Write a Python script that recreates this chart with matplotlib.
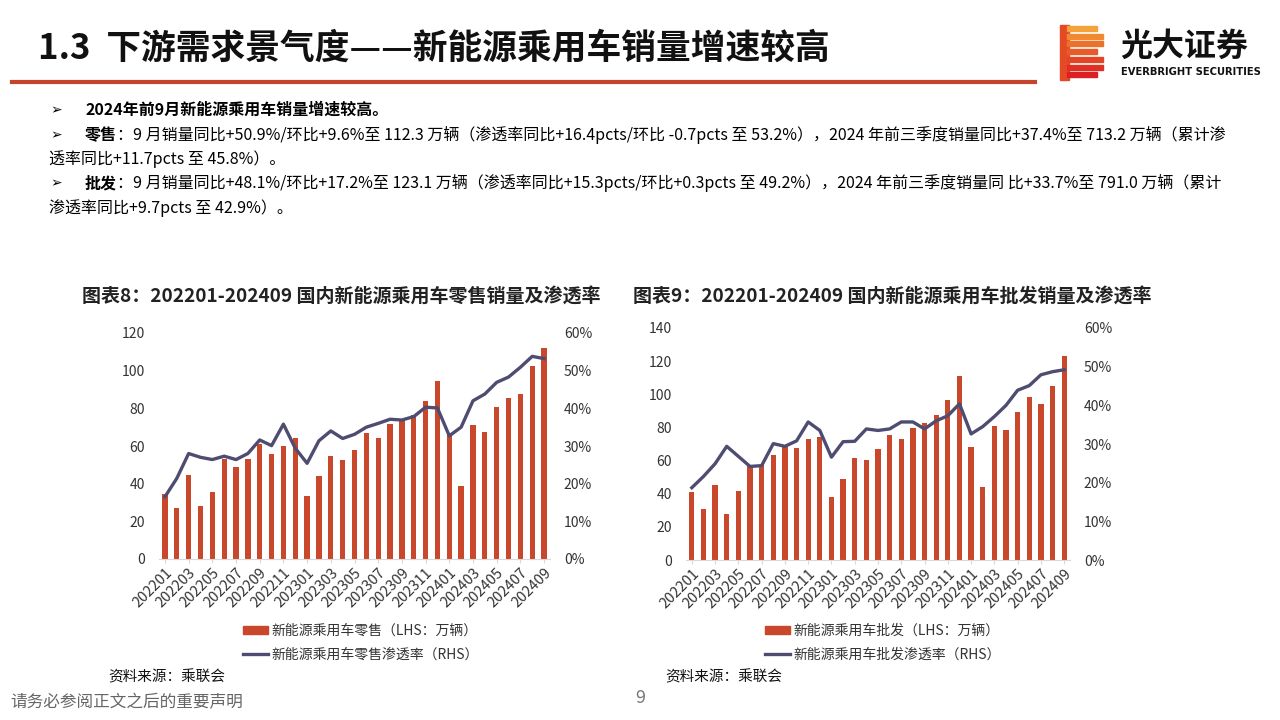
import matplotlib
matplotlib.use('Agg')
import matplotlib.pyplot as plt
from matplotlib.patches import Rectangle, Patch
from matplotlib.lines import Line2D
from matplotlib.ticker import FuncFormatter

plt.rcParams['font.family'] = ['Noto Sans CJK SC', 'DejaVu Sans']

# 数据：2022-01 至 2024-09
months = [f'{y}{m:02d}' for y in (2022, 2023, 2024) for m in range(1, 13)][:33]
retail = [34.3, 27.2, 44.5, 28.2, 35.6, 53.0, 48.6, 53.0, 61.1, 55.6, 60.1, 64.0,
          33.2, 43.9, 54.6, 52.7, 58.0, 66.8, 64.1, 71.7, 74.3, 76.7, 84.1, 94.7,
          66.8, 38.8, 71.3, 67.5, 80.5, 85.6, 87.8, 102.7, 112.3]
retail_rate = [16.5, 21.4, 28.0, 27.0, 26.4, 27.3, 26.4, 28.0, 31.6, 30.1, 35.8, 29.4,
               25.4, 31.4, 34.0, 32.0, 33.1, 35.0, 36.0, 37.1, 36.9, 37.8, 40.3, 40.1,
               32.7, 35.0, 42.0, 43.8, 46.9, 48.3, 50.9, 53.8, 53.2]
wholesale = [41.0, 31.0, 45.3, 27.8, 41.9, 57.0, 57.4, 63.1, 67.9, 67.5, 72.9, 74.5,
             38.3, 49.0, 61.4, 60.4, 66.7, 75.5, 73.1, 79.6, 82.4, 87.8, 96.3, 110.8,
             67.9, 44.3, 80.6, 78.2, 89.2, 98.1, 94.3, 105.0, 123.1]
wholesale_rate = [18.7, 21.6, 24.9, 29.4, 26.8, 24.2, 24.4, 30.1, 29.4, 30.8, 35.7, 33.5,
                  26.6, 30.6, 30.7, 33.9, 33.5, 33.9, 35.7, 35.7, 33.9, 36.0, 37.3, 40.4,
                  32.6, 34.5, 37.1, 40.0, 43.9, 45.1, 47.9, 48.7, 49.2]

BAR = '#C9472B'
LINE = '#4E4C70'
TXT = '#333333'

W, H = 1280, 720
fig = plt.figure(figsize=(12.8, 7.2), dpi=100)


def px(x, y):
    return x / W, 1 - y / H


# 标题
fig.text(*px(38, 48), '1.3  下游需求景气度——新能源乘用车销量增速较高', fontsize=25,
         fontweight='bold', va='center', ha='left', color='#111111')
fig.add_artist(Line2D([12 / W, 1035 / W], [1 - 82 / H] * 2, color='#C4452B', lw=3))

# logo
logo_cols = ['#F4A23A', '#F08A32', '#EC722C', '#E85A28', '#E44426', '#E03024', '#DC2022']
fig.patches.append(Rectangle(px(1060, 80), 9 / W, 55 / H, transform=fig.transFigure,
                             color='#E54A27'))
for i in range(7):
    y0 = 26 + i * 7.7
    wid = 30 if i in (0, 3, 6) else 36
    fig.patches.append(Rectangle(px(1067, y0 + 5), wid / W, 5 / H,
                                 transform=fig.transFigure, color=logo_cols[i]))
fig.text(*px(1120, 47), '光大证券', fontsize=23, fontweight='bold', va='center', color='#111111')
fig.text(*px(1121, 72), 'EVERBRIGHT SECURITIES', fontsize=7.2, fontweight='bold',
         va='center', color='#111111', family='DejaVu Sans')

# 正文
fs = 11.5
for y in (110, 135, 183):
    fig.text(*px(50, y), '➢', fontsize=10, va='center', family=['DejaVu Sans'])
fig.text(*px(85, 110), '2024年前9月新能源乘用车销量增速较高。', fontsize=fs,
         fontweight='bold', va='center')
fig.text(*px(85, 135), '零售', fontsize=fs, fontweight='bold', va='center')
fig.text(*px(117, 135), '：9 月销量同比+50.9%/环比+9.6%至 112.3 万辆（渗透率同比+16.4pcts/环比 -0.7pcts 至 53.2%），'
         '2024 年前三季度销量同比+37.4%至 713.2 万辆（累计渗', fontsize=fs, va='center')
fig.text(*px(49, 159), '透率同比+11.7pcts 至 45.8%）。', fontsize=fs, va='center')
fig.text(*px(85, 183), '批发', fontsize=fs, fontweight='bold', va='center')
fig.text(*px(117, 183), '：9 月销量同比+48.1%/环比+17.2%至 123.1 万辆（渗透率同比+15.3pcts/环比+0.3pcts 至 49.2%），'
         '2024 年前三季度销量同 比+33.7%至 791.0 万辆（累计', fontsize=fs, va='center')
fig.text(*px(49, 208), '渗透率同比+9.7pcts 至 42.9%）。', fontsize=fs, va='center')


def chart(left, right, top, bottom, ymax, bars, rate, title, tx, lab1, lab2, legx, srcx):
    ax = fig.add_axes([left / W, 1 - bottom / H, (right - left) / W, (bottom - top) / H])
    x = list(range(len(months)))
    ax.bar(x, bars, width=0.45, color=BAR, zorder=2)
    ax.set_xlim(-0.5, len(months) - 0.5)
    ax.set_ylim(0, ymax)
    ax.set_yticks(range(0, ymax + 1, 20))
    ax.set_xticks(x[::2])
    ax.set_xticklabels(months[::2], rotation=45, ha='right', rotation_mode='anchor')
    for s in ('top', 'left', 'right'):
        ax.spines[s].set_visible(False)
    ax.spines['bottom'].set_color('#D9D9D9')
    ax.tick_params(axis='y', length=0, labelsize=10, labelcolor=TXT, pad=10)
    ax.tick_params(axis='x', length=3, color='#D9D9D9', labelsize=10.5, labelcolor=TXT, pad=2)
    ax2 = ax.twinx()
    ax2.plot(x, rate, color=LINE, lw=2.4, zorder=3)
    ax2.set_ylim(0, 60)
    ax2.set_yticks(range(0, 61, 10))
    ax2.yaxis.set_major_formatter(FuncFormatter(lambda v, p: f'{v:.0f}%'))
    for s in ax2.spines.values():
        s.set_visible(False)
    ax2.tick_params(axis='y', length=0, labelsize=10, labelcolor=TXT, pad=10)

    fig.text(*px(tx, 297), title, fontsize=13.7, fontweight='bold', va='center', color='#222222')
    handles = [Patch(color=BAR), Line2D([0], [0], color=LINE, lw=2.4)]
    fig.legend(handles, [lab1, lab2], loc='upper left', bbox_to_anchor=px(legx, 611),
               frameon=False, fontsize=10, handlelength=1.8, handleheight=0.5,
               handletextpad=0.3, labelspacing=0.7, labelcolor=TXT)
    fig.text(*px(srcx, 677), '资料来源：乘联会', fontsize=10.5, va='center', color='#111111')


chart(159, 550, 333, 559, 120, retail, retail_rate,
      '图表8：202201-202409 国内新能源乘用车零售销量及渗透率', 82,
      '新能源乘用车零售（LHS：万辆）', '新能源乘用车零售渗透率（RHS）', 230, 108)
chart(686, 1070, 328, 560, 140, wholesale, wholesale_rate,
      '图表9：202201-202409 国内新能源乘用车批发销量及渗透率', 633,
      '新能源乘用车批发（LHS：万辆）', '新能源乘用车批发渗透率（RHS）', 752, 665)

# 页脚
fig.text(*px(10, 703), '请务必参阅正文之后的重要声明', fontsize=12, va='center', color='#666666')
fig.text(*px(640, 698), '9', fontsize=13, va='center', ha='center', color='#777777')

fig.savefig('out.png', dpi=100)
